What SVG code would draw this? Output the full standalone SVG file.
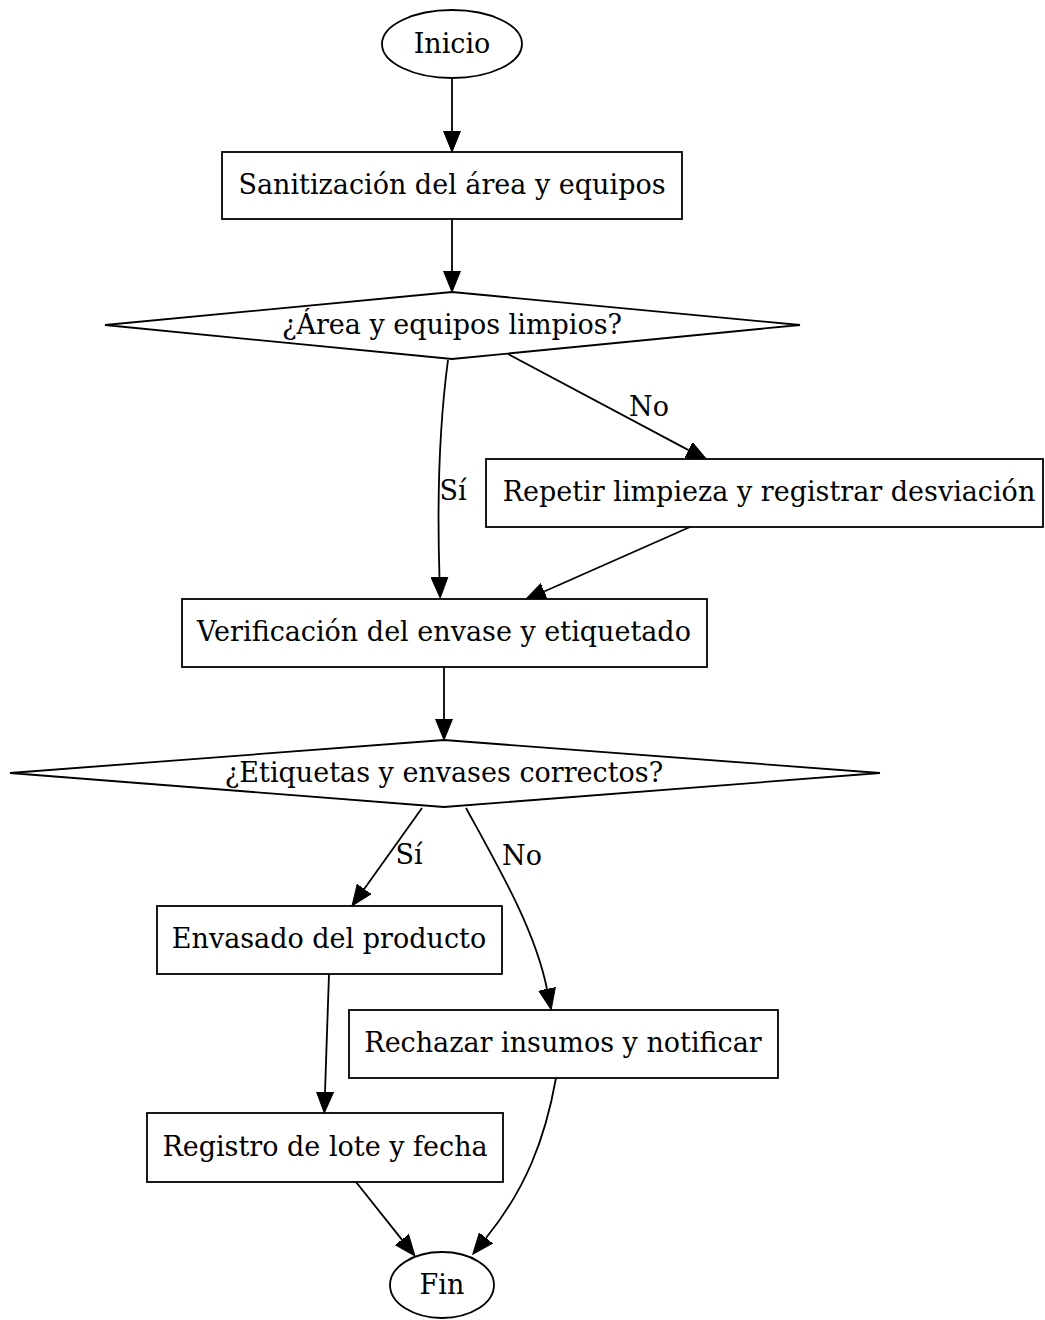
<svg xmlns="http://www.w3.org/2000/svg" width="1045" height="1320" viewBox="0 0 1045 1320">
  <defs>
    <marker id="arrow" markerUnits="userSpaceOnUse" markerWidth="22" markerHeight="18" refX="0" refY="9" orient="auto">
      <path d="M0,0.5 L21,9 L0,17.5 z" fill="#000" stroke="#000" stroke-width="1"/>
    </marker>
  </defs>
  <style>
    .shape { fill: #fff; stroke: #000; stroke-width: 1.8; }
    .edge { fill: none; stroke: #000; stroke-width: 1.8; marker-end: url(#arrow); }
    text { font-family: "DejaVu Serif", "Liberation Serif", serif; font-size: 27px; fill: #000; }
    .node text { text-anchor: middle; }
  </style>
  <rect width="1045" height="1320" fill="#fff"/>

  <!-- connectors -->
  <g id="edges">
    <path class="edge" d="M452,78 L452,131"/>
    <path class="edge" d="M452,219 L452,271"/>
    <path class="edge" d="M448,360 C440,420 437,500 439.5,577"/>
    <path class="edge" d="M508,354 L688.5,450.1"/>
    <path class="edge" d="M690,527 L544.2,591.5"/>
    <path class="edge" d="M444,667 L444,719"/>
    <path class="edge" d="M422,808 L364.2,888.9"/>
    <path class="edge" d="M466,808 C500,870 535,930 547,989"/>
    <path class="edge" d="M329,974 L325,1092"/>
    <path class="edge" d="M356,1182 L401.9,1239.6"/>
    <path class="edge" d="M556,1078 C545,1140 525,1190 486,1238"/>
    <text x="453" y="500" text-anchor="middle">Sí</text>
    <text x="649" y="416" text-anchor="middle">No</text>
    <text x="409" y="864" text-anchor="middle">Sí</text>
    <text x="522" y="865" text-anchor="middle">No</text>
  </g>

  <g id="inicio" class="node">
    <ellipse class="shape" cx="452" cy="44" rx="70" ry="34"/>
    <text x="452" y="53">Inicio</text>
  </g>
  <g id="sanitizacion" class="node">
    <rect class="shape" x="222" y="152" width="460" height="67"/>
    <text x="452" y="194">Sanitización del área y equipos</text>
  </g>
  <g id="area-limpia" class="node">
    <polygon class="shape" points="452,292 800,325 452,359 105,325"/>
    <text x="452" y="334">¿Área y equipos limpios?</text>
  </g>
  <g id="repetir" class="node">
    <rect class="shape" x="486" y="459" width="557" height="68"/>
    <text x="769" y="501">Repetir limpieza y registrar desviación</text>
  </g>
  <g id="verificacion" class="node">
    <rect class="shape" x="182" y="599" width="525" height="68"/>
    <text x="444" y="641">Verificación del envase y etiquetado</text>
  </g>
  <g id="etiquetas-ok" class="node">
    <polygon class="shape" points="444,740 880,773 444,807 10,773"/>
    <text x="444" y="782">¿Etiquetas y envases correctos?</text>
  </g>
  <g id="envasado" class="node">
    <rect class="shape" x="157" y="906" width="345" height="68"/>
    <text x="329" y="948">Envasado del producto</text>
  </g>
  <g id="rechazar" class="node">
    <rect class="shape" x="349" y="1010" width="429" height="68"/>
    <text x="563" y="1052">Rechazar insumos y notificar</text>
  </g>
  <g id="registro" class="node">
    <rect class="shape" x="147" y="1113" width="356" height="69"/>
    <text x="325" y="1156">Registro de lote y fecha</text>
  </g>
  <g id="fin" class="node">
    <ellipse class="shape" cx="442" cy="1285" rx="52" ry="33"/>
    <text x="442" y="1294">Fin</text>
  </g>
</svg>
